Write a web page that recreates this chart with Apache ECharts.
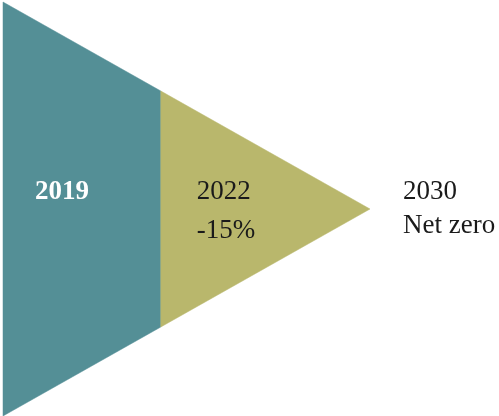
<!DOCTYPE html>
<html>
<head>
<meta charset="utf-8">
<style>html,body{margin:0;padding:0;background:#fff;}#c{width:499px;height:416px;}</style>
<script src="https://cdn.jsdelivr.net/npm/echarts@6/dist/echarts.min.js"></script>
</head>
<body>
<div id="c"></div>
<script>
// Stages along the arrow (position along the arrow, 0 = start, 100 = tip)
const years = ['2019', '2022', '2030'];
const notes = ['', '-15%', 'Net zero'];
const positions = [0, 43, 100];
const segmentColors = ['#548f96', '#b9b76c'];

const chart = echarts.init(document.getElementById('c'), null, {renderer: 'canvas'});
const FONT = '"Liberation Serif", "Times New Roman", serif';
const LABEL_DX = [32, 36, 33];

const segData = [];
for (let i = 0; i < positions.length - 1; i++) segData.push([positions[i], positions[i + 1], i]);
const labelData = positions.map((p, i) => [p, i]);

function half(x) { return 1 - x / 100; }

chart.setOption({
  animation: false,
  grid: {left: 3, right: 129, top: 2, bottom: 0},
  xAxis: {type: 'value', min: 0, max: 100, show: false},
  yAxis: {type: 'value', min: -1, max: 1, show: false},
  series: [
    {
      type: 'custom',
      data: segData,
      renderItem: function (params, api) {
        const x0 = api.value(0), x1 = api.value(1), idx = api.value(2);
        const pts = [
          api.coord([x0, half(x0)]),
          api.coord([x1, half(x1)]),
          api.coord([x1, -half(x1)]),
          api.coord([x0, -half(x0)])
        ];
        return {
          type: 'polygon',
          shape: {points: pts},
          style: {fill: segmentColors[idx], stroke: segmentColors[idx], lineWidth: 0.5}
        };
      }
    },
    {
      type: 'custom',
      data: labelData,
      z: 5,
      renderItem: function (params, api) {
        const idx = api.value(1);
        const p = api.coord([api.value(0), 0]);
        const first = idx === 0;
        const lh = idx === 1 ? 39 : 34;
        const dx = LABEL_DX[idx];
        const children = [{
          type: 'text',
          style: {
            x: p[0] + dx, y: p[1] - 17,
            text: years[idx],
            fill: first ? '#ffffff' : '#1a1a1a',
            font: (first ? 'bold ' : '') + '27px ' + FONT,
            align: 'left', verticalAlign: 'middle'
          }
        }];
        if (notes[idx]) {
          children.push({
            type: 'text',
            style: {
              x: p[0] + dx, y: p[1] - 17 + lh,
              text: notes[idx],
              fill: '#1a1a1a',
              font: '27px ' + FONT,
              align: 'left', verticalAlign: 'middle'
            }
          });
        }
        return {type: 'group', children: children};
      }
    }
  ]
});
</script>
</body>
</html>
